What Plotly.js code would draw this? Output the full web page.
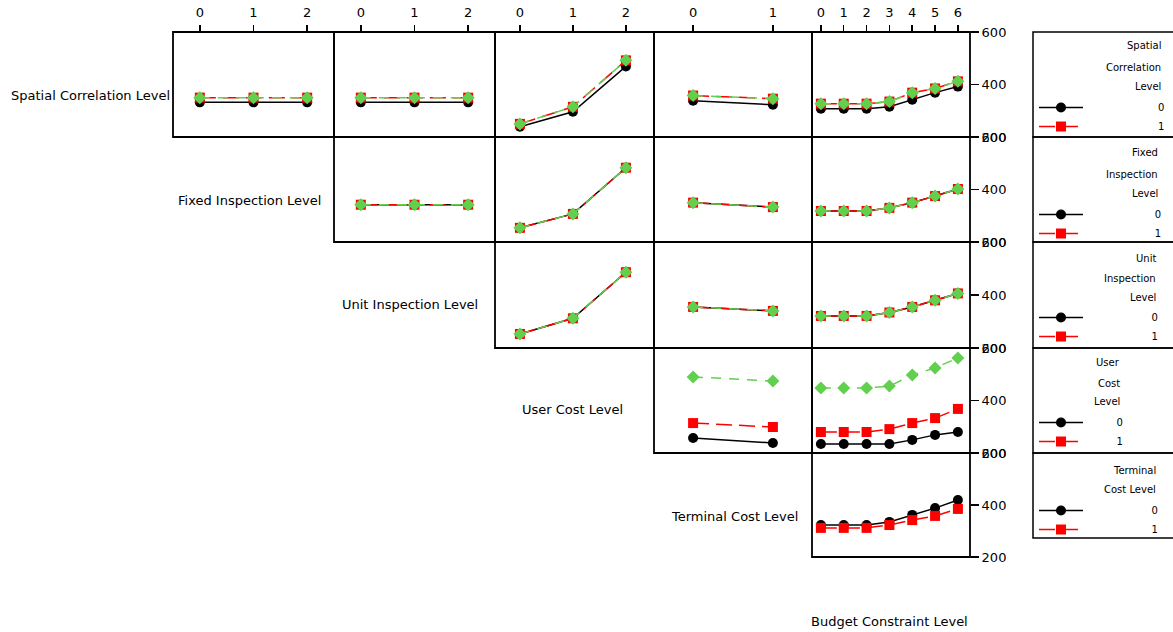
<!DOCTYPE html>
<html>
<head>
<meta charset="utf-8">
<script src="https://cdn.plot.ly/plotly-3.0.1.min.js"></script>
<style>html,body{margin:0;padding:0;background:#fff;}#chart{width:1173px;height:632px;}</style>
</head>
<body>
<div id="chart"></div>
<script>
// ---- factor names and levels ----
const rowFactors = ["Spatial Correlation Level", "Fixed Inspection Level", "Unit Inspection Level", "User Cost Level", "Terminal Cost Level"];
const colFactors = ["Fixed Inspection Level", "Unit Inspection Level", "User Cost Level", "Terminal Cost Level", "Budget Constraint Level"];
const fixedLevels = [0, 1, 2];
const unitLevels = [0, 1, 2];
const userLevels = [0, 1, 2];
const terminalLevels = [0, 1];
const budgetLevels = [0, 1, 2, 3, 4, 5, 6];
const colLevels = [fixedLevels, unitLevels, userLevels, terminalLevels, budgetLevels];
const legendLabels = ["0", "1"];
const legendTitles = [["Spatial", "Correlation", "Level"], ["Fixed", "Inspection", "Level"], ["Unit", "Inspection", "Level"], ["User", "Cost", "Level"], ["Terminal", "Cost Level"]];
const yTicks = [200, 400, 600];

// ---- mean response values: row factor level -> column factor ----
// Row 1: Spatial Correlation Level
const spatial0 = { fixed: [332, 332, 332], unit: [332, 332, 332], user: [239, 296, 469], terminal: [338, 323], budget: [308, 308, 308, 315, 342, 369, 392] };
const spatial1 = { fixed: [350, 350, 350], unit: [350, 350, 350], user: [250, 315, 492], terminal: [358, 346], budget: [327, 327, 327, 335, 369, 385, 412] };
const spatial2 = { fixed: [350, 350, 350], unit: [350, 350, 350], user: [250, 315, 492], terminal: [358, 346], budget: [327, 327, 327, 335, 369, 385, 412] };
// Row 2: Fixed Inspection Level
const fixed0 = { unit: [342, 342, 342], user: [254, 307, 483], terminal: [350, 333], budget: [318, 318, 318, 330, 350, 375, 402] };
const fixed1 = { unit: [342, 342, 342], user: [254, 307, 483], terminal: [350, 333], budget: [318, 318, 318, 330, 350, 375, 402] };
const fixed2 = { unit: [342, 342, 342], user: [254, 307, 483], terminal: [350, 333], budget: [318, 318, 318, 330, 350, 375, 402] };
// Row 3: Unit Inspection Level
const unit0 = { user: [253, 312, 486], terminal: [355, 340], budget: [321, 321, 321, 334, 355, 380, 406] };
const unit1 = { user: [253, 312, 486], terminal: [355, 340], budget: [321, 321, 321, 334, 355, 380, 406] };
const unit2 = { user: [253, 312, 486], terminal: [355, 340], budget: [321, 321, 321, 334, 355, 380, 406] };
// Row 4: User Cost Level
const user0 = { terminal: [257, 238], budget: [234, 234, 234, 234, 250, 269, 280] };
const user1 = { terminal: [314, 299], budget: [280, 280, 280, 291, 314, 333, 368] };
const user2 = { terminal: [490, 474], budget: [448, 448, 448, 455, 497, 524, 562] };
// Row 5: Terminal Cost Level
const terminal0 = { budget: [323, 323, 323, 335, 362, 388, 419] };
const terminal1 = { budget: [312, 312, 312, 323, 342, 358, 385] };

const colKeys = ["fixed", "unit", "user", "terminal", "budget"];
const rowSeries = [
  [spatial0, spatial1, spatial2],
  [fixed0, fixed1, fixed2],
  [unit0, unit1, unit2],
  [user0, user1, user2],
  [terminal0, terminal1]
];

// ---- layout geometry (pixels) ----
const W = 1173, H = 632;
const colEdges = [173, 334, 495, 654, 812, 970];
const rowEdges = [32, 137, 242, 348, 453, 557];
const colRanges = [[-0.5, 2.5], [-0.5, 2.5], [-0.47, 2.53], [-0.49, 1.49], [-0.39, 6.53]];
const FONT = "DejaVu Sans, Liberation Sans, sans-serif";
const styles = [
  { color: "#000000", dash: "solid", symbol: "circle", size: 10 },
  { color: "#FF0000", dash: "16px,7px", symbol: "square", size: 10 },
  { color: "#61D04F", dash: "10px,8px", symbol: "diamond", size: 10 }
];
const px = v => v / W;
const py = v => 1 - v / H;

const traces = [];
const layout = {
  width: W, height: H,
  margin: { l: 0, r: 0, t: 0, b: 0 },
  paper_bgcolor: "#ffffff", plot_bgcolor: "rgba(0,0,0,0)",
  font: { family: FONT, size: 11, color: "#000" },
  annotations: [], shapes: []
};

let k = 0;
for (let r = 0; r < 5; r++) {
  for (let c = r; c < 5; c++) {
    k++;
    const xa = "xaxis" + (k === 1 ? "" : k), ya = "yaxis" + (k === 1 ? "" : k);
    const xid = "x" + (k === 1 ? "" : k), yid = "y" + (k === 1 ? "" : k);
    layout[xa] = {
      domain: [px(colEdges[c]), px(colEdges[c + 1])], range: colRanges[c], anchor: yid,
      side: "top", showline: false,
      showgrid: false, zeroline: false, fixedrange: true,
      tickvals: colLevels[c], ticktext: colLevels[c].map(String),
      ticks: r === 0 ? "outside" : "", ticklen: 6, tickwidth: 1.5, tickcolor: "#000",
      showticklabels: r === 0, tickfont: { family: FONT, size: 13, color: "#000" }, ticklabelstandoff: 3
    };
    layout[ya] = {
      domain: [py(rowEdges[r + 1]), py(rowEdges[r])], range: [200, 600], anchor: xid,
      side: "right", showline: false,
      showgrid: false, zeroline: false, fixedrange: true,
      tickvals: yTicks, ticktext: yTicks.map(String),
      ticks: c === 4 ? "outside" : "", ticklen: 8, tickwidth: 1.5, tickcolor: "#000",
      showticklabels: c === 4, tickfont: { family: FONT, size: 13, color: "#000" }
    };
    // panel frame
    layout.shapes.push({
      type: "rect", xref: "paper", yref: "paper",
      x0: px(colEdges[c]), x1: px(colEdges[c + 1]), y0: py(rowEdges[r + 1]), y1: py(rowEdges[r]),
      line: { color: "#000", width: 1.8 }, layer: "above"
    });
    const series = rowSeries[r];
    series.forEach((s, li) => {
      const st = styles[li];
      const showLeg = (c === r) && li < 2;
      traces.push({
        type: "scatter", mode: "lines+markers", xaxis: xid, yaxis: yid,
        x: colLevels[c], y: s[colKeys[c]],
        name: legendLabels[li] !== undefined ? legendLabels[li] : String(li),
        legend: r === 0 ? "legend" : "legend" + (r + 1),
        showlegend: showLeg,
        line: { color: st.color, width: 1.5, dash: st.dash },
        marker: { color: st.color, symbol: st.symbol, size: st.size, line: { width: 0 } },
        hoverinfo: "x+y"
      });
    });
  }
}

// ---- diagonal factor labels ----
const diagLabelPos = [[90, 95], [249, 200], [410, 304], [572, 409], [734, 516], [889, 621]];
const diagLabels = rowFactors.concat(["Budget Constraint Level"]);
diagLabels.forEach((t, i) => {
  layout.annotations.push({
    text: t, xref: "paper", yref: "paper", x: px(diagLabelPos[i][0]), y: py(diagLabelPos[i][1]),
    xanchor: "center", yanchor: "middle", showarrow: false, font: { family: FONT, size: 13, color: "#000" }
  });
});

// ---- legends (one per row factor) ----
const legBoxes = [[32, 137], [137, 242], [242, 348], [348, 453], [453, 538]];
const legTitleY = [[45, 67, 86], [153, 174, 193], [258, 278, 297], [363, 383, 402], [470, 489]];
const legItemTop = [106, 213, 316, 421, 509];
const legRight = [1163, 1160, 1158, 1122, 1158];
const legX = 1034;
for (let r = 0; r < 5; r++) {
  const key = r === 0 ? "legend" : "legend" + (r + 1);
  layout[key] = {
    x: px(legX), xanchor: "left", y: py(legItemTop[r] - 13), yanchor: "top",
    bgcolor: "rgba(0,0,0,0)", borderwidth: 0, itemwidth: 44, tracegroupgap: 0,
    font: { family: FONT, size: 10, color: "#000" }, itemclick: false, itemdoubleclick: false
  };
  layout.shapes.push({
    type: "rect", xref: "paper", yref: "paper", x0: px(1033), x1: px(1185),
    y0: py(legBoxes[r][1]), y1: py(legBoxes[r][0]), line: { color: "#000", width: 1.5 }
  });
  legendTitles[r].forEach((t, j) => {
    layout.annotations.push({
      text: t, xref: "paper", yref: "paper", x: px(legRight[r]), y: py(legTitleY[r][j]),
      xanchor: "right", yanchor: "middle", showarrow: false, font: { family: FONT, size: 10, color: "#000" }
    });
  });
}
// pad legend entry names so their text sits right-aligned under the titles
const nbspW = 3.18, digitW = 6.4, textStart = legX + 44 + 10;
traces.forEach(t => {
  if (t.showlegend) {
    const r = t.legend === "legend" ? 0 : parseInt(t.legend.slice(6)) - 1;
    const n = Math.max(0, Math.round((legRight[r] - digitW - textStart) / nbspW));
    t.name = "\u00a0".repeat(n) + t.name;
  }
});

Plotly.newPlot("chart", traces, layout, { displayModeBar: false, staticPlot: true });
</script>
</body>
</html>
